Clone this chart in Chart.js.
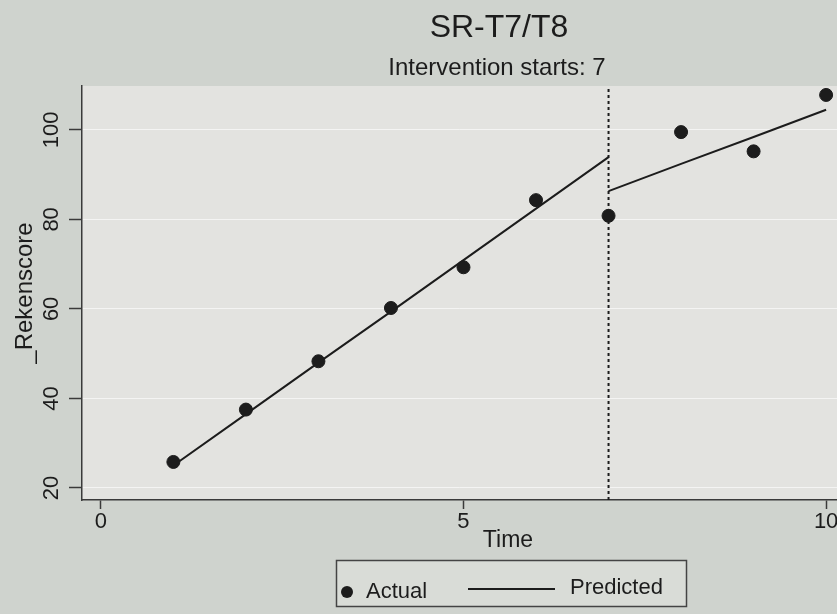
<!DOCTYPE html>
<html>
<head>
<meta charset="utf-8">
<script src="https://cdn.jsdelivr.net/npm/chart.js@4.4.0/dist/chart.umd.min.js"></script>
<style>
  html, body { margin: 0; padding: 0; background: #cfd3ce; overflow: hidden; }
  canvas { display: block; }
</style>
</head>
<body>
<canvas id="chart" width="837" height="614"></canvas>
<script>
// data
const timePoints = [1, 2, 3, 4, 5, 6, 7, 8, 9, 10];
const actual = [25.8, 37.5, 48.3, 60.2, 69.3, 84.3, 80.8, 99.5, 95.2, 107.8];
const predPreTime = [1, 2, 3, 4, 5, 6, 7];
const predPre = [25.0, 36.5, 48.0, 59.4, 70.9, 82.4, 93.9];
const predPostTime = [7, 8, 9, 10];
const predPost = [86.3, 92.4, 98.4, 104.5];
const interventionAt = 7;
const xTicks = [0, 5, 10];
const yTicks = [20, 40, 60, 80, 100];

const FONT = '"Liberation Sans", Arial, sans-serif';
const INK = '#1c1c1c';
const AXIS = '#3a3a3a';
const Y_MIN = 17.3, Y_MAX = 109.8;

const toXY = (xs, ys) => xs.map((x, i) => ({x: x, y: ys[i]}));

// titles, rotated y labels, x title, legend box
const decor = {
  id: 'decor',
  beforeDraw(chart) {
    const {ctx, chartArea: a} = chart;
    ctx.save();
    ctx.fillStyle = '#e3e3e0';
    ctx.fillRect(a.left, a.top, a.right - a.left, a.bottom - a.top);
    ctx.restore();
  },
  afterDraw(chart) {
    const {ctx} = chart;
    const y = chart.scales.y;
    ctx.save();
    ctx.fillStyle = INK;
    ctx.textAlign = 'center';
    ctx.textBaseline = 'middle';

    ctx.font = '22px ' + FONT;
    yTicks.forEach(v => {
      ctx.save();
      ctx.translate(52, y.getPixelForValue(v));
      ctx.rotate(-Math.PI / 2);
      ctx.fillText(String(v), 0, 0);
      ctx.restore();
    });

    ctx.font = '23px ' + FONT;
    ctx.fillText('Time', 508, 541);

    ctx.font = '32px ' + FONT;
    ctx.fillText('SR-T7/T8', 499, 28);
    ctx.font = '24px ' + FONT;
    ctx.fillText('Intervention starts: ' + interventionAt, 497, 68);

    // legend
    ctx.fillStyle = '#d9dcd7';
    ctx.fillRect(336, 560, 350, 46);
    ctx.strokeStyle = '#444';
    ctx.lineWidth = 1.5;
    ctx.strokeRect(336.5, 560.5, 350, 46);
    ctx.fillStyle = INK;
    ctx.beginPath();
    ctx.arc(347, 592, 6, 0, Math.PI * 2);
    ctx.fill();
    ctx.textAlign = 'left';
    ctx.font = '22px ' + FONT;
    ctx.fillText('Actual', 366, 592);
    ctx.strokeStyle = INK;
    ctx.lineWidth = 2;
    ctx.beginPath();
    ctx.moveTo(468, 589);
    ctx.lineTo(555, 589);
    ctx.stroke();
    ctx.fillText('Predicted', 570, 588);
    ctx.restore();
  }
};

const ctx = document.getElementById('chart');
new Chart(ctx, {
  type: 'line',
  data: {
    datasets: [{
      label: 'Actual',
      type: 'scatter',
      data: toXY(timePoints, actual),
      pointRadius: 6.5,
      pointBackgroundColor: INK,
      pointBorderColor: INK,
      showLine: false,
      clip: false,
    }, {
      label: 'Predicted',
      data: toXY(predPreTime, predPre),
      borderColor: INK,
      borderWidth: 2,
      pointRadius: 0,
    }, {
      label: 'Predicted (post)',
      data: toXY(predPostTime, predPost),
      borderColor: INK,
      borderWidth: 2,
      pointRadius: 0,
    }, {
      label: 'Intervention',
      data: [{x: interventionAt, y: Y_MIN}, {x: interventionAt, y: Y_MAX}],
      borderColor: INK,
      borderWidth: 2,
      borderDash: [3, 3],
      pointRadius: 0,
    }]
  },
  options: {
    responsive: false,
    animation: false,
    devicePixelRatio: 1,
    layout: {autoPadding: false, padding: {top: 86, bottom: 58, left: 0, right: 0}},
    scales: {
      x: {
        type: 'linear',
        min: -0.26,
        max: 10.15,
        afterBuildTicks: s => { s.ticks = xTicks.map(v => ({value: v})); },
        afterFit: s => { s.height = 56; s.paddingLeft = 0; s.paddingRight = 0; },
        grid: {drawOnChartArea: false, drawTicks: true, tickLength: 9, tickColor: AXIS, tickWidth: 1.5},
        border: {display: true, color: AXIS, width: 1.5},
        ticks: {color: INK, font: {family: FONT, size: 22}, padding: 0, maxRotation: 0},
        title: {display: false}
      },
      y: {
        type: 'linear',
        min: Y_MIN,
        max: Y_MAX,
        afterBuildTicks: s => { s.ticks = yTicks.map(v => ({value: v})); },
        afterFit: s => { s.width = 82; },
        grid: {color: 'rgba(255,255,255,0.6)', lineWidth: 1, tickLength: 13, tickColor: AXIS, tickWidth: 1.5},
        border: {display: true, color: AXIS, width: 1.5},
        ticks: {display: false},
        title: {display: true, text: '_Rekenscore', color: INK, font: {family: FONT, size: 24}, padding: {top: 11, bottom: 0}}
      }
    },
    plugins: {
      legend: {display: false},
      tooltip: {enabled: false},
      title: {display: false}
    }
  },
  plugins: [decor]
});
</script>
</body>
</html>
